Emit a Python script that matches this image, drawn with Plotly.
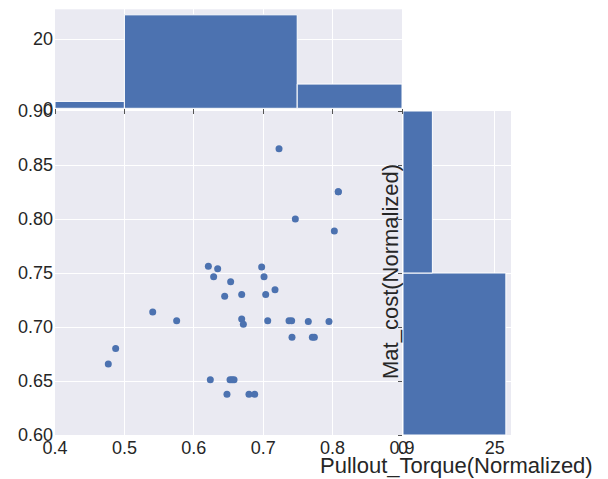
import plotly.graph_objects as go

# ---- data ----
pullout_torque = [0.7228, 0.8082, 0.8082, 0.7463, 0.8025, 0.6210, 0.6344, 0.6286, 0.6531,
                  0.6978, 0.7012, 0.6445, 0.6690, 0.7036, 0.7170, 0.5408, 0.5753, 0.6690,
                  0.6714, 0.7065, 0.7372, 0.7410, 0.7650, 0.7948, 0.7415, 0.7708, 0.7737,
                  0.4874, 0.4768, 0.6238, 0.6522, 0.6551, 0.6580, 0.6478, 0.6795, 0.6877]
mat_cost = [0.8650, 0.8253, 0.8253, 0.8000, 0.7890, 0.7562, 0.7540, 0.7466, 0.7420,
            0.7556, 0.7466, 0.7284, 0.7300, 0.7300, 0.7346, 0.7139, 0.7058, 0.7074,
            0.7025, 0.7058, 0.7058, 0.7058, 0.7050, 0.7050, 0.6904, 0.6904, 0.6904,
            0.6800, 0.6657, 0.6512, 0.6512, 0.6512, 0.6512, 0.6377, 0.6377, 0.6377]

top_edges = [0.4, 0.5, 0.749, 0.9]
top_counts = [2, 27, 7]
right_edges = [0.60, 0.75, 0.90]
right_counts = [28, 8]

x_ticks = [0.4, 0.5, 0.6, 0.7, 0.8, 0.9]
y_ticks = [0.60, 0.65, 0.70, 0.75, 0.80, 0.85, 0.90]
top_ticks = [0, 20]
right_ticks = [0, 25]

x_title = "Pullout_Torque(Normalized)"
y_title = "Mat_cost(Normalized)"

# ---- styling ----
BLUE = "#4C72B0"
BG = "#EAEAF2"
TXT = "#262626"
FONT = "Liberation Sans, Arial, sans-serif"
W, H = 608, 479

def px(x):
    return x / W

def py(y):
    return 1 - y / H

top_centers = [(a + b) / 2 for a, b in zip(top_edges[:-1], top_edges[1:])]
top_widths = [b - a for a, b in zip(top_edges[:-1], top_edges[1:])]
right_centers = [(a + b) / 2 for a, b in zip(right_edges[:-1], right_edges[1:])]
right_widths = [b - a for a, b in zip(right_edges[:-1], right_edges[1:])]

fig = go.Figure()
fig.add_trace(go.Scatter(x=pullout_torque, y=mat_cost, mode="markers",
                         marker=dict(color=BLUE, size=7), xaxis="x", yaxis="y"))
fig.add_trace(go.Bar(x=top_centers, y=top_counts, width=top_widths,
                     marker=dict(color=BLUE, line=dict(color="white", width=1)),
                     xaxis="x2", yaxis="y2"))
fig.add_trace(go.Bar(y=right_centers, x=right_counts, width=right_widths, orientation="h",
                     marker=dict(color=BLUE, line=dict(color="white", width=1)),
                     xaxis="x3", yaxis="y3"))

main_xd = [px(55), px(402)]
main_yd = [py(435), py(111)]
common = dict(gridcolor="white", gridwidth=1, zeroline=False, showline=False,
              tickfont=dict(size=18, color=TXT, family=FONT), automargin=False)

fig.update_layout(
    width=W, height=H, margin=dict(l=0, r=0, t=0, b=0),
    paper_bgcolor="white", plot_bgcolor=BG, showlegend=False,
    font=dict(family=FONT, color=TXT),
    xaxis=dict(domain=main_xd, range=[0.4, 0.9], tickvals=x_ticks, anchor="y",
               ticklabelstandoff=0, **common),
    yaxis=dict(domain=main_yd, range=[0.6, 0.9], tickvals=y_ticks, tickformat=".2f",
               anchor="x", ticklabelstandoff=1, **common),
    xaxis2=dict(domain=main_xd, range=[0.4, 0.9], tickvals=x_ticks, anchor="y2",
                showticklabels=False, ticks="outside", ticklen=5, tickcolor="#555", **common),
    yaxis2=dict(domain=[py(108.3), py(9.3)], range=[0, 28.6], tickvals=top_ticks,
                anchor="x2", ticklabelstandoff=1, **common),
    xaxis3=dict(domain=[px(403), px(511)], range=[0, 29.4], tickvals=right_ticks,
                anchor="y3", ticklabelstandoff=0, **common),
    yaxis3=dict(domain=main_yd, range=[0.6, 0.9], tickvals=y_ticks, anchor="x3",
                showticklabels=False, ticks="outside", ticklen=4, tickcolor="#555", **common),
    annotations=[
        dict(text=x_title, xref="paper", yref="paper", x=px(456), y=py(465),
             xanchor="center", yanchor="middle", showarrow=False,
             font=dict(size=22, color=TXT, family=FONT)),
        dict(text=y_title, xref="paper", yref="paper", x=px(390), y=py(272),
             xanchor="center", yanchor="middle", showarrow=False, textangle=-90,
             font=dict(size=22, color=TXT, family=FONT)),
    ],
)

fig.write_html("out.html")
